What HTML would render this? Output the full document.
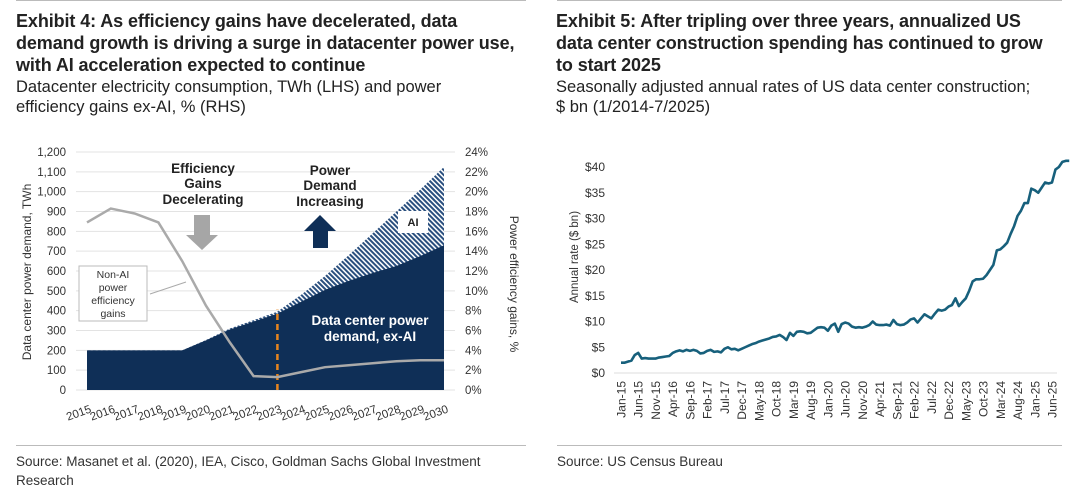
<!DOCTYPE html>
<html><head><meta charset="utf-8"><style>
body{margin:0;width:1080px;height:499px;background:#fff;overflow:hidden;font-family:"Liberation Sans",sans-serif;color:#222;position:relative}
.t{position:absolute;font-weight:bold;font-size:18px;line-height:22px;letter-spacing:-0.1px;color:#222;white-space:nowrap}
.s{position:absolute;font-size:16.5px;line-height:20px;color:#222;white-space:nowrap}
.src{position:absolute;font-size:13.5px;line-height:19px;color:#333;white-space:nowrap}
.rule{position:absolute;height:1px;background:#bbb}
svg{position:absolute;left:0;top:0}
</style></head><body>
<div class="rule" style="left:16px;top:0;width:510px"></div>
<div class="rule" style="left:557px;top:0;width:505px"></div>
<div class="t" style="left:16px;top:10px">Exhibit 4: As efficiency gains have decelerated, data<br>demand growth is driving a surge in datacenter power use,<br>with AI acceleration expected to continue</div>
<div class="s" style="left:16px;top:77px">Datacenter electricity consumption, TWh (LHS) and power<br>efficiency gains ex-AI, % (RHS)</div>
<div class="t" style="left:556px;top:10px">Exhibit 5: After tripling over three years, annualized US<br>data center construction spending has continued to grow<br>to start 2025</div>
<div class="s" style="left:556px;top:77px">Seasonally adjusted annual rates of US data center construction;<br>$ bn (1/2014-7/2025)</div>
<div class="rule" style="left:16px;top:445px;width:510px"></div>
<div class="rule" style="left:557px;top:445px;width:505px"></div>
<div class="src" style="left:16px;top:452px">Source: Masanet et al. (2020), IEA, Cisco, Goldman Sachs Global Investment<br>Research</div>
<div class="src" style="left:557px;top:452px">Source: US Census Bureau</div>

<svg id="c1" width="540" height="440">
<defs><pattern id="hatch" width="3.5" height="3.5" patternUnits="userSpaceOnUse" patternTransform="rotate(-45)"><rect width="3.5" height="3.5" fill="#fff"/><rect width="2" height="3.5" fill="#2a4f7e"/></pattern></defs>
</svg>
<svg id="c2" width="1080" height="440" style="left:0"></svg>

<script>
const years=[2015,2016,2017,2018,2019,2020,2021,2022,2023,2024,2025,2026,2027,2028,2029,2030];
const exAI=[200,200,200,200,200,250,305,345,385,445,505,550,590,625,675,730];
const totalDemand=[200,200,200,200,200,252,310,352,395,480,575,680,790,900,1010,1125];
const effGains=[16.9,18.3,17.8,16.9,13.0,8.5,4.8,1.4,1.3,1.8,2.3,2.5,2.7,2.9,3.0,3.0];
const leftTicks=[0,100,200,300,400,500,600,700,800,900,1000,1100,1200];
const rightTicks=[0,2,4,6,8,10,12,14,16,18,20,22,24];

const months=["Jan-15","Jun-15","Nov-15","Apr-16","Sep-16","Feb-17","Jul-17","Dec-17","May-18","Oct-18","Mar-19","Aug-19","Jan-20","Jun-20","Nov-20","Apr-21","Sep-21","Feb-22","Jul-22","Dec-22","May-23","Oct-23","Mar-24","Aug-24","Jan-25","Jun-25"];
const spending=[2.0,2.0,2.2,2.4,3.5,3.9,2.8,2.9,2.8,2.8,2.8,3.0,3.1,3.2,3.3,3.9,4.2,4.4,4.2,4.5,4.3,4.5,4.3,3.8,3.9,4.3,4.5,4.1,4.2,4.0,4.7,5.0,4.6,4.7,4.4,4.7,5.0,5.3,5.6,5.8,6.1,6.3,6.5,6.7,7.0,7.1,7.4,7.0,6.4,7.8,7.2,8.0,8.1,8.0,7.7,7.8,8.3,8.8,8.9,8.8,8.2,9.2,9.6,8.0,9.5,9.8,9.6,9.0,8.8,8.9,8.8,9.0,9.3,10.0,9.4,9.3,9.3,9.4,9.2,10.3,9.5,9.3,9.4,9.8,10.4,10.6,9.8,10.6,11.4,11.0,10.6,11.5,12.3,12.1,12.3,12.9,13.2,14.5,13.0,13.8,14.5,16.0,17.8,18.2,18.2,18.3,19.0,20.0,21.0,23.8,24.0,24.6,25.3,27.0,28.5,30.5,31.5,33.0,33.0,35.8,35.5,35.0,36.0,37.0,36.8,37.0,39.5,40.0,41.0,41.2,41.2];
const spendTicks=[0,5,10,15,20,25,30,35,40];

const NS="http://www.w3.org/2000/svg";
function mk(p,tag,a,txt){const e=document.createElementNS(NS,tag);for(const k in a)e.setAttribute(k,a[k]);if(txt!==undefined)e.textContent=txt;p.appendChild(e);return e;}

// ---- Chart 1 ----
const c1=document.getElementById('c1');
const x1=y=>87+(y-2015)*(444-87)/15;
const yL=v=>390-v*(238/1200);
const yR=p=>390-p*(238/24);
leftTicks.forEach((t,i)=>{
  let g=mk(c1,'line',{x1:76,x2:455,y1:yL(t),y2:yL(t),stroke:'#e3e3e3','stroke-width':1});
  
  let l=mk(c1,'text',{x:66,y:yL(t)+4,'text-anchor':'end','font-size':11.5,fill:'#333'},t.toLocaleString('en-US'));
  
});
rightTicks.forEach(t=>{
  let l=mk(c1,'text',{x:465,y:yR(t)+4,'font-size':11.5,fill:'#333'},t+'%');
  
});
let ptsT=years.map((y,i)=>x1(y)+','+yL(totalDemand[i])).join(' ');
let aiA=mk(c1,'polygon',{points:ptsT+' '+x1(2030)+','+yL(0)+' '+x1(2015)+','+yL(0),fill:'url(#hatch)'});

let ptsE=years.map((y,i)=>x1(y)+','+yL(exAI[i])).join(' ');
let exA=mk(c1,'polygon',{points:ptsE+' '+x1(2030)+','+yL(0)+' '+x1(2015)+','+yL(0),fill:'#0f2f57'});

let vl=mk(c1,'line',{x1:x1(2023),x2:x1(2023),y1:yL(0),y2:yL(405),stroke:'#e8851e','stroke-width':2.5,'stroke-dasharray':'6,4'});

let eff=mk(c1,'polyline',{points:years.map((y,i)=>x1(y)+','+yR(effGains[i])).join(' '),fill:'none',stroke:'#aaa','stroke-width':2.5});

years.forEach(y=>{
  let l=mk(c1,'text',{x:x1(y)+5,y:412,'text-anchor':'end','font-size':11.5,fill:'#333',transform:`rotate(-20 ${x1(y)+5} 412)`},y);
  
});
let yt=mk(c1,'text',{x:0,y:0,'font-size':12,fill:'#333','text-anchor':'middle',transform:'translate(31,272) rotate(-90)'},'Data center power demand, TWh');

let yt2=mk(c1,'text',{x:0,y:0,'font-size':12,fill:'#333','text-anchor':'middle',transform:'translate(510,284) rotate(90)'},'Power efficiency gains, %');

[['Efficiency',173],['Gains',188],['Decelerating',204]].forEach(([s,y])=>{let t=mk(c1,'text',{x:203,y:y,'text-anchor':'middle','font-size':13.5,'font-weight':'bold',fill:'#222'},s);});
[['Power',175],['Demand',190],['Increasing',206]].forEach(([s,y])=>{let t=mk(c1,'text',{x:330,y:y,'text-anchor':'middle','font-size':13.5,'font-weight':'bold',fill:'#222'},s);});
let da=mk(c1,'polygon',{points:'194,215 210,215 210,235 218,235 202,250 186,235 194,235',fill:'#a6a6a6'});

let ua=mk(c1,'polygon',{points:'313,248 328,248 328,231 336,231 320,215 304,231 313,231',fill:'#0f2f57'});

let aib=mk(c1,'rect',{x:398,y:211,width:30,height:22,fill:'#fff'});
let ait=mk(c1,'text',{x:413,y:226,'text-anchor':'middle','font-size':11,'font-weight':'bold',fill:'#222'},'AI');
[['Data center power',325],['demand, ex-AI',341]].forEach(([s,y])=>{let t=mk(c1,'text',{x:370,y:y,'text-anchor':'middle','font-size':13.5,'font-weight':'bold',fill:'#fff'},s);});
let nb=mk(c1,'rect',{x:79,y:266,width:68,height:55,fill:'#fff',stroke:'#bbb'});
[['Non-AI',278],['power',291],['efficiency',304],['gains',317]].forEach(([s,y])=>{let t=mk(c1,'text',{x:113,y:y,'text-anchor':'middle','font-size':10.5,fill:'#333'},s);});
let cl=mk(c1,'line',{x1:150,y1:294,x2:186,y2:282,stroke:'#aaa'});

// ---- Chart 2 ----
const c2=document.getElementById('c2');
const x2=i=>621+i*(1052-621)/125;
const y2=v=>373-v*(206/40);
spendTicks.forEach(t=>{
  let l=mk(c2,'text',{x:605,y:y2(t)+4,'text-anchor':'end','font-size':12,fill:'#333'},'$'+t);
  
});
let ax=mk(c2,'line',{x1:614,x2:1057,y1:y2(0),y2:y2(0),stroke:'#ddd'});
months.forEach((m,i)=>{
  const xx=x2(i*5);
  let l=mk(c2,'text',{x:0,y:0,'text-anchor':'end','font-size':12,fill:'#333',transform:`translate(${xx+4.5},381) rotate(-90)`},m);
  
});
let ln=mk(c2,'polyline',{points:spending.map((v,i)=>x2(i)+','+y2(v)).join(' '),fill:'none',stroke:'#17607c','stroke-width':2.6,'stroke-linejoin':'round'});

let yt3=mk(c2,'text',{x:0,y:0,'font-size':11.5,fill:'#333','text-anchor':'middle',transform:'translate(578,257) rotate(-90)'},'Annual rate ($ bn)');

</script>
</body></html>
